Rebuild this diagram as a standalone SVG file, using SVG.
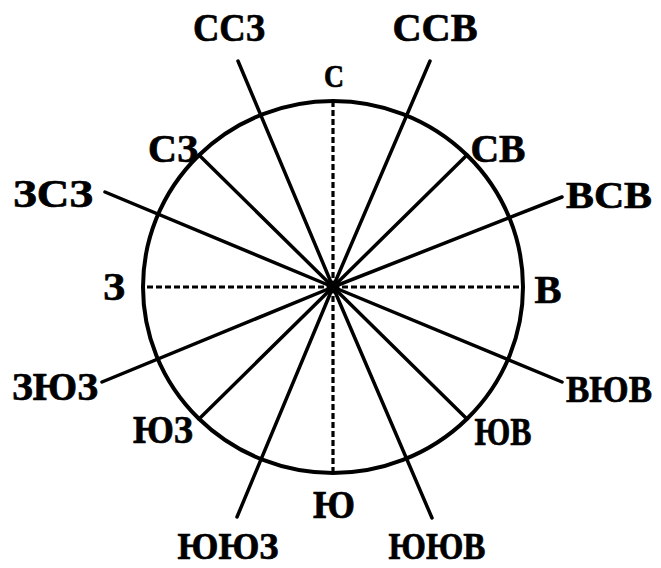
<svg xmlns="http://www.w3.org/2000/svg" width="661" height="568" viewBox="0 0 661 568">
<style>
.spoke{stroke:#000;stroke-width:3.5;stroke-linecap:round;fill:none}
.dash{stroke:#000;stroke-width:3.2;stroke-dasharray:6 3;fill:none}
.lbl{font-family:"Liberation Serif","Times New Roman",serif;font-weight:bold;font-size:40px;fill:#000;stroke:#000;stroke-width:0.7;text-anchor:middle}
.sm{font-size:38px}
</style>
<rect width="661" height="568" fill="#fff"/>
<g id="rose">
<ellipse cx="333" cy="287" rx="190" ry="186" fill="none" stroke="#000" stroke-width="4"/>
</g>
<g id="connectors">
<line class="dash" x1="333" y1="287" x2="333" y2="101"/>
<line class="dash" x1="333" y1="287" x2="333" y2="473"/>
<line class="dash" x1="333" y1="287" x2="143" y2="287"/>
<line class="dash" x1="333" y1="287" x2="523" y2="287"/>
<line class="spoke" x1="333" y1="287" x2="199" y2="155"/>
<line class="spoke" x1="333" y1="287" x2="467" y2="155"/>
<line class="spoke" x1="333" y1="287" x2="199" y2="419"/>
<line class="spoke" x1="333" y1="287" x2="467" y2="419"/>
<line class="spoke" x1="333" y1="287" x2="238" y2="61"/>
<line class="spoke" x1="333" y1="287" x2="430" y2="61"/>
<line class="spoke" x1="333" y1="287" x2="105" y2="192"/>
<line class="spoke" x1="333" y1="287" x2="562" y2="197"/>
<line class="spoke" x1="333" y1="287" x2="102" y2="382"/>
<line class="spoke" x1="333" y1="287" x2="562" y2="382"/>
<line class="spoke" x1="333" y1="287" x2="237" y2="517"/>
<line class="spoke" x1="333" y1="287" x2="432" y2="518"/>
</g>
<g id="center"><circle cx="333" cy="287" r="6.5" fill="#000"/></g>
<g id="labels">
<g id="n-SSW"><text class="lbl" x="229" y="41" textLength="72" lengthAdjust="spacingAndGlyphs">ССЗ</text></g>
<g id="n-SSE"><text class="lbl" x="435" y="41" textLength="85" lengthAdjust="spacingAndGlyphs">ССВ</text></g>
<g id="n-N"><text class="lbl" x="334" y="87" style="font-size:32px" textLength="20" lengthAdjust="spacingAndGlyphs">С</text></g>
<g id="n-NW"><text class="lbl" x="173" y="162" textLength="50" lengthAdjust="spacingAndGlyphs">СЗ</text></g>
<g id="n-NE"><text class="lbl" x="498" y="162" textLength="55" lengthAdjust="spacingAndGlyphs">СВ</text></g>
<g id="n-WNW"><text class="lbl" x="53" y="207" textLength="80" lengthAdjust="spacingAndGlyphs">ЗСЗ</text></g>
<g id="n-ENE"><text class="lbl sm" x="609" y="208" textLength="86" lengthAdjust="spacingAndGlyphs">ВСВ</text></g>
<g id="n-W"><text class="lbl" x="114" y="300" textLength="22" lengthAdjust="spacingAndGlyphs">З</text></g>
<g id="n-E"><text class="lbl" x="548" y="303" textLength="27" lengthAdjust="spacingAndGlyphs">В</text></g>
<g id="n-WSW"><text class="lbl" x="55" y="400" textLength="86" lengthAdjust="spacingAndGlyphs">ЗЮЗ</text></g>
<g id="n-ESE"><text class="lbl sm" x="609" y="402" textLength="86" lengthAdjust="spacingAndGlyphs">ВЮВ</text></g>
<g id="n-SW"><text class="lbl" x="163" y="443" textLength="60" lengthAdjust="spacingAndGlyphs">ЮЗ</text></g>
<g id="n-SE"><text class="lbl" x="503" y="445" textLength="57" lengthAdjust="spacingAndGlyphs">ЮВ</text></g>
<g id="n-S"><text class="lbl" x="334" y="518" textLength="42" lengthAdjust="spacingAndGlyphs">Ю</text></g>
<g id="n-SSW2"><text class="lbl sm" x="228" y="559" textLength="101" lengthAdjust="spacingAndGlyphs">ЮЮЗ</text></g>
<g id="n-SSE2"><text class="lbl sm" x="437" y="559" textLength="97" lengthAdjust="spacingAndGlyphs">ЮЮВ</text></g>
</g>
</svg>
